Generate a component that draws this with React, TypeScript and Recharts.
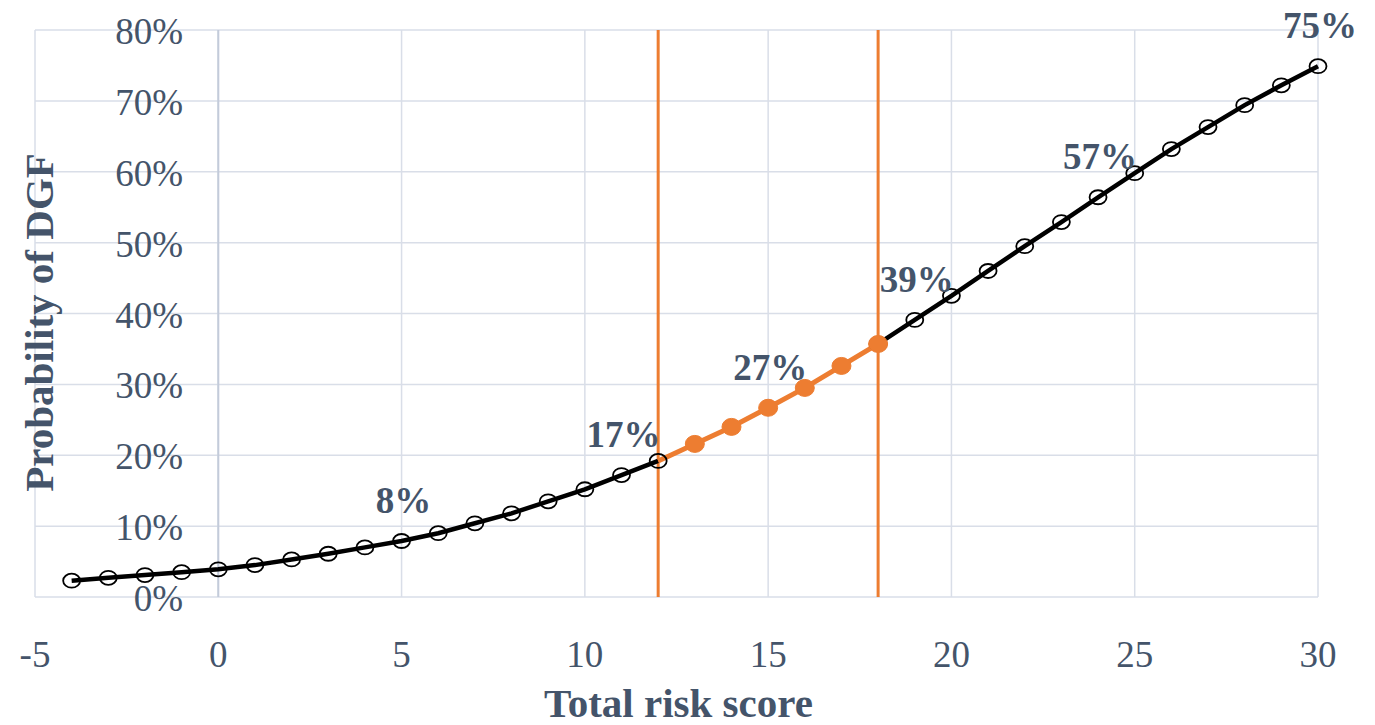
import { LineChart, Line, XAxis, YAxis, CartesianGrid, ReferenceLine, LabelList, Label } from "recharts";

// Total risk score vs probability of DGF (%)
const scores = [-4, -3, -2, -1, 0, 1, 2, 3, 4, 5, 6, 7, 8, 9, 10, 11, 12, 13, 14, 15, 16, 17, 18, 19, 20, 21, 22, 23, 24, 25, 26, 27, 28, 29, 30];
const probability = [2.3, 2.7, 3.1, 3.5, 3.9, 4.5, 5.3, 6.1, 7.0, 7.9, 9.0, 10.4, 11.8, 13.5, 15.2, 17.2, 19.2, 21.6, 24.0, 26.7, 29.5, 32.6, 35.7, 39.1, 42.5, 46.0, 49.5, 52.9, 56.4, 59.8, 63.2, 66.3, 69.4, 72.2, 74.9];

// middle risk band drawn in orange
const bandStart = 12;
const bandEnd = 18;

// points that carry a value label
const labelScores = [5, 11, 15, 19, 24, 30];
const labelTexts = ["8%", "17%", "27%", "39%", "57%", "75%"];

const xTicks = [-5, 0, 5, 10, 15, 20, 25, 30];
const yTicks = [0, 10, 20, 30, 40, 50, 60, 70, 80];

const data = scores.map((s, i) => ({
  score: s,
  low:  s <= bandStart ? probability[i] : null,
  mid:  s >= bandStart && s <= bandEnd ? probability[i] : null,
  high: s >= bandEnd ? probability[i] : null,
}));

const INK = "#44546A";
const ORANGE = "#ED7D31";
const GRID = "#D9DEE8";
const FONT = "'Liberation Serif', 'Times New Roman', serif";

const OpenDot = (p: any) => {
  if (p.value == null || p.cx == null) return <g key={p.key} />;
  return <ellipse key={p.key} cx={p.cx} cy={p.cy} rx={8.5} ry={7} fill="none" stroke="#000" strokeWidth={1.8} />;
};

const OrangeDot = (p: any) => {
  if (p.value == null || p.cx == null || data[p.index].score === bandStart) return <g key={p.key} />;
  return <ellipse key={p.key} cx={p.cx} cy={p.cy} rx={9.5} ry={8.5} fill={ORANGE} stroke={ORANGE} />;
};

const ValueLabel = (p: any) => {
  const row = data[p.index];
  if (!row || p.value == null) return null;
  const k = labelScores.indexOf(row.score);
  if (k < 0) return null;
  return (
    <text x={p.x + 2} y={p.y - 28} textAnchor="middle" fill={INK} fontFamily={FONT} fontWeight="bold" fontSize={37}>
      {labelTexts[k]}
    </text>
  );
};

// y labels sit beside the vertical axis at score 0, not at the plot edge
const YTick = (p: any) => (
  <text x={p.x + 156} y={p.y + 14} textAnchor="end" fill={INK} fontFamily={FONT} fontSize={37}>
    {p.payload.value}%
  </text>
);

export default function App() {
  return (
    <div style={{ position: "absolute", left: 0, top: 0, background: "#fff" }}>
      <LineChart width={1375} height={725} data={data} margin={{ top: 30, right: 57, bottom: 28, left: 34 }}>
        <CartesianGrid stroke={GRID} strokeWidth={1.5} />
        <XAxis
          dataKey="score" type="number" domain={[-5, 30]} ticks={xTicks} height={100}
          axisLine={false} tickLine={false} tickMargin={38}
          tick={{ fill: INK, fontFamily: FONT, fontSize: 37 }}
        >
          <Label content={({ viewBox }: any) => (
            <text x={viewBox.x + viewBox.width / 2 + 2} y={viewBox.y + 120} textAnchor="middle" fill={INK} fontFamily={FONT} fontWeight="bold" fontSize={41}>
              Total risk score
            </text>
          )} />
        </XAxis>
        <YAxis
          type="number" domain={[0, 80]} ticks={yTicks} width={1}
          axisLine={false} tickLine={false} tick={<YTick />}
        >
          <Label content={({ viewBox }: any) => {
            const cx = viewBox.x + 5;
            const cy = viewBox.y + viewBox.height / 2 + 9;
            return (
              <text x={cx} y={cy} transform={`rotate(-90 ${cx} ${cy})`} textAnchor="middle" dominantBaseline="central" fill={INK} fontFamily={FONT} fontWeight="bold" fontSize={41}>
                Probability of DGF
              </text>
            );
          }} />
        </YAxis>
        <ReferenceLine x={0} stroke="#C3CBDA" strokeWidth={2} />
        <ReferenceLine x={bandStart} stroke={ORANGE} strokeWidth={3} />
        <ReferenceLine x={bandEnd} stroke={ORANGE} strokeWidth={3} />
        <Line dataKey="low" stroke="#000" strokeWidth={4.5} dot={<OpenDot />} activeDot={false} isAnimationActive={false} connectNulls={false}>
          <LabelList dataKey="low" content={<ValueLabel />} />
        </Line>
        <Line dataKey="high" stroke="#000" strokeWidth={4.5} dot={<OpenDot />} activeDot={false} isAnimationActive={false} connectNulls={false}>
          <LabelList dataKey="high" content={<ValueLabel />} />
        </Line>
        <Line dataKey="mid" stroke={ORANGE} strokeWidth={5} dot={<OrangeDot />} activeDot={false} isAnimationActive={false} connectNulls={false}>
          <LabelList dataKey="mid" content={<ValueLabel />} />
        </Line>
      </LineChart>
    </div>
  );
}
